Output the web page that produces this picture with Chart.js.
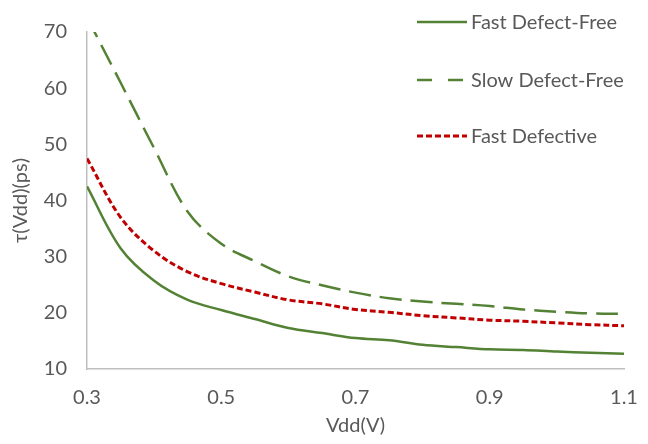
<!DOCTYPE html>
<html>
<head>
<meta charset="utf-8">
<script src="https://cdn.jsdelivr.net/npm/chart.js@4.4.1/dist/chart.umd.min.js"></script>
<style>
  html, body { margin: 0; padding: 0; background: #fff; }
  #wrap { width: 648px; height: 444px; }
</style>
</head>
<body>
<div id="wrap"><canvas id="chart" width="648" height="444"></canvas></div>
<script>
// data
const vdd = [0.3, 0.35, 0.4, 0.45, 0.5, 0.55, 0.6, 0.65, 0.7, 0.75, 0.8, 0.85, 0.9, 0.95, 1.0, 1.05, 1.1];
const fastDefectFree = [42.5, 31.5, 25.7, 22.3, 20.5, 18.9, 17.3, 16.4, 15.5, 15.1, 14.3, 13.9, 13.5, 13.4, 13.1, 12.9, 12.7];
const slowDefectFree = [72.6, 61, 49.3, 38, 32.3, 29.2, 26.5, 24.9, 23.6, 22.6, 22.0, 21.6, 21.2, 20.6, 20.2, 19.9, 19.8];
const fastDefective = [47.5, 37, 31, 27.3, 25.2, 23.7, 22.3, 21.6, 20.6, 20.1, 19.5, 19.1, 18.7, 18.5, 18.2, 17.9, 17.7];
const xTicks = [0.3, 0.5, 0.7, 0.9, 1.1];
const yTicks = [10, 20, 30, 40, 50, 60, 70];

const GREEN = '#548235';
const RED = '#c00000';
const TXT = '#595959';
const FONT = "Lato, 'Noto Sans', sans-serif";
const FS = 20;

function pts(ys) {
    return vdd.map((x, i) => ({x: x, y: ys[i]}));
}

// legend drawn inside the plot, top right
const insideLegend = {
    id: 'insideLegend',
    afterDraw(chart) {
        const ctx = chart.ctx;
        const rows = [22, 80, 136];
        ctx.save();
        chart.data.datasets.forEach((ds, i) => {
            const y = rows[i];
            ctx.strokeStyle = ds.borderColor;
            ctx.lineWidth = ds.borderWidth;
            ctx.setLineDash(ds.legendDash || ds.borderDash || []);
            ctx.beginPath();
            ctx.moveTo(417, y);
            ctx.lineTo(467, y);
            ctx.stroke();
            ctx.setLineDash([]);
            ctx.fillStyle = TXT;
            ctx.font = FS + 'px ' + FONT;
            ctx.textBaseline = 'middle';
            ctx.textAlign = 'left';
            ctx.fillText(ds.label, 471, y + 1);
        });
        ctx.restore();
    }
};

const data = {
    datasets: [
        {
            label: 'Fast Defect-Free',
            data: pts(fastDefectFree),
            borderColor: GREEN,
            borderWidth: 2.5,
            borderDash: [],
        },
        {
            label: 'Slow Defect-Free',
            data: pts(slowDefectFree),
            borderColor: GREEN,
            borderWidth: 2.5,
            borderDash: [22, 9],
            legendDash: [15, 16],
        },
        {
            label: 'Fast Defective',
            data: pts(fastDefective),
            borderColor: RED,
            borderWidth: 3,
            borderDash: [6, 3],
        }
    ]
};

const config = {
    type: 'line',
    data: data,
    options: {
        responsive: false,
        animation: false,
        events: [],
        layout: {padding: {left: 0, right: 24, top: 20, bottom: 0}},
        elements: {
            point: {radius: 0},
            line: {tension: 0.35, fill: false}
        },
        plugins: {
            legend: {display: false},
            tooltip: {enabled: false}
        },
        scales: {
            x: {
                type: 'linear',
                min: 0.3,
                max: 1.1,
                afterBuildTicks: (s) => { s.ticks = xTicks.map(v => ({value: v})); },
                afterFit: (s) => { s.height = 75; s.paddingLeft = 0; s.paddingRight = 0; },
                grid: {display: false, drawTicks: false},
                border: {display: true, color: '#bfbfbf', width: 1.5},
                ticks: {
                    color: TXT,
                    font: {size: FS, family: FONT},
                    padding: 17,
                    maxRotation: 0,
                    callback: (v) => v.toFixed(1)
                },
                title: {
                    display: true,
                    text: 'Vdd(V)',
                    color: TXT,
                    font: {size: FS, family: FONT},
                    padding: {top: 0, bottom: 6}
                }
            },
            y: {
                type: 'linear',
                min: 10,
                max: 70,
                afterBuildTicks: (s) => { s.ticks = yTicks.map(v => ({value: v})); },
                afterFit: (s) => { s.width = 87; },
                grid: {display: false, drawTicks: false},
                border: {display: true, color: '#bfbfbf', width: 1.5},
                ticks: {
                    color: TXT,
                    font: {size: FS, family: FONT},
                    padding: 20
                },
                title: {
                    display: true,
                    text: 'τ(Vdd)(ps)',
                    color: TXT,
                    font: {size: FS, family: FONT},
                    padding: {top: 9, bottom: 0}
                }
            }
        }
    },
    plugins: [insideLegend]
};

const chart = new Chart(document.getElementById('chart').getContext('2d'), config);
</script>
</body>
</html>
